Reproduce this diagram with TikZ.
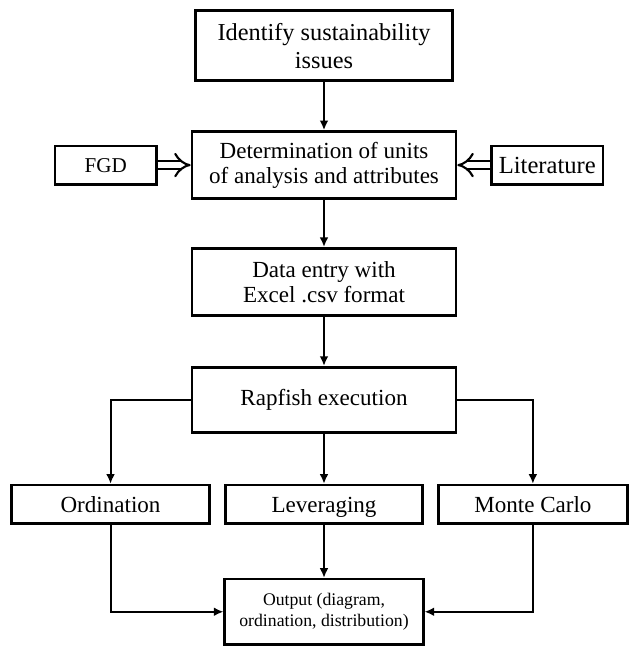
\documentclass[tikz,border=0pt]{standalone}
\usepackage{fontspec}
\setmainfont{Liberation Serif}
\usetikzlibrary{positioning,arrows.meta}

\begin{document}
\begin{tikzpicture}[node distance=1.2cm and 0.325cm,
                       frame/.style={draw, line width=1.9pt, inner sep=0pt, font=\fontsize{16.4}{17.8}\selectfont},
                       box/.style={frame, align=center, minimum width=6.6cm, minimum height=1.68cm},
                       smallbox/.style={frame, minimum width=4.93cm, minimum height=0.96cm, text height=15pt, text depth=3.4pt},
                       arrow/.style={-{Latex[length=2.4mm, width=2.2mm]}, line width=1.4pt},
                       hollow/.style={double, line width=1.5pt, double distance=4.5pt, -{Implies[scale=1.35]}}]
        \useasboundingbox (0,0) rectangle (15.8,-16.2);
        % Main column
        \node[box, minimum width=6.41cm, minimum height=1.76cm, font=\fontsize{17.3}{19.9}\selectfont] (ident) at (8.1,-1.14) {Identify sustainability\\issues};
        \node[box, below=of ident] (determ) {Determination of units\\of analysis and attributes};
        \node[box, below=1.175cm of determ] (data) {Data entry with\\Excel .csv format};
        \node[box, below=1.225cm of data, minimum height=1.63cm] (rap) {Rapfish execution};
        % Inputs to the second step
        \node[smallbox, left=0.825cm of determ, minimum width=2.53cm, text height=13.5pt, font=\fontsize{15}{17}\selectfont] (fgd) {FGD};
        \node[smallbox, right=0.825cm of determ, minimum width=2.78cm, font=\fontsize{17.5}{19}\selectfont] (lit) {Literature};
        % Analyses
        \node[smallbox, below=1.25cm of rap] (lev) {Leveraging};
        \node[smallbox, left=of lev, minimum width=4.96cm] (ordn) {Ordination};
        \node[smallbox, right=of lev, minimum width=4.73cm] (monte) {Monte Carlo};
        \node[box, below=1.325cm of lev, minimum width=4.96cm, minimum height=1.63cm, font=\fontsize{12.6}{15.6}\selectfont] (out) {Output (diagram,\\ordination, distribution)};
        % Arrows
        \draw[arrow] (ident) -- (determ);
        \draw[arrow] (determ) -- (data);
        \draw[arrow] (data) -- (rap);
        \draw[hollow] (fgd) -- (determ);
        \draw[hollow] (lit) -- (determ);
        \draw[arrow] (rap.west) -| (ordn.north);
        \draw[arrow] (rap) -- (lev);
        \draw[arrow] (rap.east) -| (monte.north);
        \draw[arrow] (ordn.south) |- (out.west);
        \draw[arrow] (lev) -- (out);
        \draw[arrow] (monte.south) |- (out.east);
    \end{tikzpicture}
\end{document}
